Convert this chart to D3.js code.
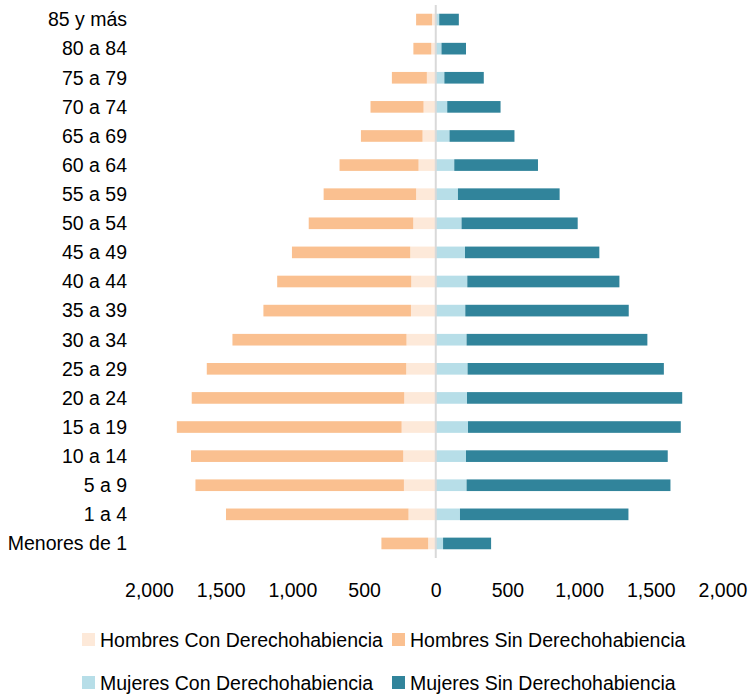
<!DOCTYPE html>
<html>
<head>
<meta charset="utf-8">
<script src="https://cdn.jsdelivr.net/npm/d3@7"></script>
<style>
  html, body { margin: 0; padding: 0; background: #fff; }
  svg { display: block; font-family: "Liberation Sans", Arial, sans-serif; }
</style>
</head>
<body>
<svg id="chart" width="750" height="694"></svg>
<script>
const categories = ["85 y más","80 a 84","75 a 79","70 a 74","65 a 69","60 a 64","55 a 59","50 a 54","45 a 49","40 a 44","35 a 39","30 a 34","25 a 29","20 a 24","15 a 19","10 a 14","5 a 9","1 a 4","Menores de 1"];
const hombresCon = [26,31,62,85,92,120,137,157,178,171,173,204,206,220,238,227,222,190,53];
const hombresSin = [111,125,244,370,430,551,645,729,825,935,1029,1214,1391,1482,1568,1480,1454,1273,326];
const mujeresCon = [24,40,60,80,96,129,155,180,204,220,206,215,222,218,225,211,215,169,51];
const mujeresSin = [137,171,275,372,453,584,709,810,937,1061,1140,1261,1369,1501,1484,1407,1422,1175,335];
const tickValues = [-2000,-1500,-1000,-500,0,500,1000,1500,2000];
const seriesNames = ["Hombres Con Derechohabiencia","Hombres Sin Derechohabiencia","Mujeres Con Derechohabiencia","Mujeres Sin Derechohabiencia"];
const colors = ["#FDE9D9","#FAC090","#B7DEE8","#31849B"];

const svg = d3.select("#chart");
const x = d3.scaleLinear().domain([-2000, 2000]).range([149, 722.5]);
const y = d3.scaleBand().domain(categories).range([5, 558]).paddingInner(0.6).paddingOuter(0.3);
const fs = "19.5px";

// build stacked segments
const segs = [];
categories.forEach((c, i) => {
  segs.push({c, x0: 0, x1: -hombresCon[i], s: 0});
  segs.push({c, x0: -hombresCon[i], x1: -hombresCon[i] - hombresSin[i], s: 1});
  segs.push({c, x0: 0, x1: mujeresCon[i], s: 2});
  segs.push({c, x0: mujeresCon[i], x1: mujeresCon[i] + mujeresSin[i], s: 3});
});

svg.append("g").selectAll("rect").data(segs).join("rect")
  .attr("x", d => x(Math.min(d.x0, d.x1)))
  .attr("width", d => Math.abs(x(d.x1) - x(d.x0)))
  .attr("y", d => y(d.c))
  .attr("height", y.bandwidth())
  .attr("fill", d => colors[d.s]);

// zero line
svg.append("line")
  .attr("x1", x(0)).attr("x2", x(0))
  .attr("y1", 5).attr("y2", 558)
  .attr("stroke", "#D9D9D9").attr("stroke-width", 2);

// category labels
svg.append("g").selectAll("text").data(categories).join("text")
  .attr("x", 127)
  .attr("y", d => y(d) + y.bandwidth() / 2)
  .attr("dy", "0.35em")
  .attr("text-anchor", "end")
  .attr("font-size", fs)
  .attr("fill", "#000")
  .text(d => d);

// x axis
const fmt = d3.format(",");
const axis = svg.append("g")
  .attr("transform", "translate(0,575)")
  .call(d3.axisBottom(x).tickValues(tickValues).tickSize(0).tickPadding(0).tickFormat(d => fmt(Math.abs(d))));
axis.select(".domain").remove();
axis.selectAll("text")
  .attr("font-family", "Liberation Sans, Arial, sans-serif")
  .attr("font-size", fs)
  .attr("fill", "#000")
  .attr("dy", null)
  .attr("y", 21.7);

// legend
const legendPos = [[82, 633], [392, 633], [82, 676], [392, 676]];
const lg = svg.append("g").selectAll("g").data(seriesNames).join("g")
  .attr("transform", (d, i) => `translate(${legendPos[i][0]},${legendPos[i][1]})`);
lg.append("rect").attr("width", 13).attr("height", 13).attr("fill", (d, i) => colors[i]);
lg.append("text")
  .attr("x", 18).attr("y", 14)
  .attr("font-size", fs)
  .attr("fill", "#000")
  .text(d => d);
</script>
</body>
</html>
